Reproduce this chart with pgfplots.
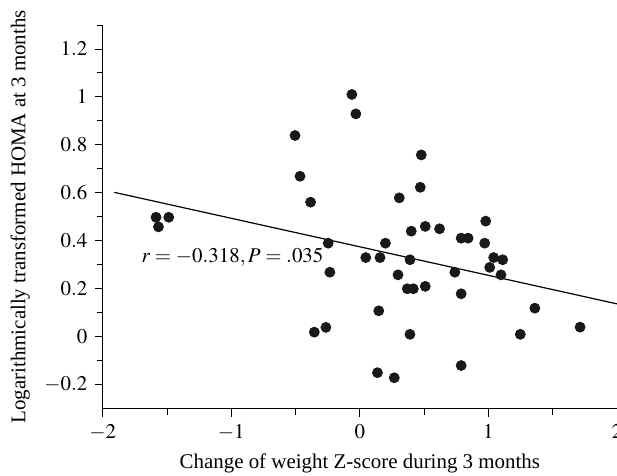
\documentclass[border=0pt]{standalone}
\usepackage{mathptmx}
\usepackage{fontspec}
\setmainfont{Liberation Serif}
\usepackage{pgfplots}
\pgfplotsset{compat=1.18}

\begin{document}
\fontsize{10.5}{12}\selectfont
\begin{tikzpicture}
  \begin{axis}[
      scale only axis,
      width=258pt, height=192.5pt,
      xmin=-2, xmax=2, ymin=-0.3, ymax=1.3,
      axis x line*=bottom, axis y line*=left,
      xtick={-2,-1,0,1,2},
      minor xtick={-1.5,-0.5,0.5,1.5},
      ytick={-0.2,0,0.2,0.4,0.6,0.8,1,1.2},
      minor ytick={-0.1,0.1,0.3,0.5,0.7,0.9,1.1,1.3},
      tick align=outside,
      major tick length=4pt, minor tick length=3pt,
      tick style={black, thin},
      axis line style={black, thin},
      font=\fontsize{10.5}{12}\selectfont,
      ticklabel style={font=\fontsize{10.5}{12}\selectfont},
      xlabel={Change of weight Z-score during 3 months},
      ylabel={Logarithmically transformed HOMA at 3 months},
      clip=false,
    ]
    % regression line
    \addplot[black, line width=0.6pt] coordinates {(-1.91,0.602) (2.0,0.137)};
    % observations
    \addplot[only marks, mark=*, mark size=2.5pt, color=black!90] coordinates {
      (-1.585,0.498) (-1.486,0.498) (-1.566,0.458)
      (-0.465,0.669) (-0.383,0.561) (-0.246,0.390) (-0.233,0.269)
      (-0.354,0.019) (-0.264,0.039)
      (-0.062,1.010) (-0.031,0.929) (-0.504,0.839)
      (0.478,0.758) (0.470,0.623)
      (0.307,0.579) (0.400,0.440) (0.509,0.460) (0.620,0.450)
      (0.979,0.482) (0.788,0.411) (0.842,0.411) (0.971,0.390)
      (0.199,0.390) (0.046,0.330) (0.157,0.330) (0.390,0.321)
      (1.041,0.330) (1.111,0.321) (1.010,0.289) (1.098,0.258)
      (0.739,0.269) (0.297,0.258) (0.369,0.200) (0.416,0.200)
      (0.509,0.210) (0.788,0.179) (0.147,0.108) (0.390,0.010)
      (1.248,0.010) (1.361,0.119) (1.713,0.040)
      (0.137,-0.150) (0.268,-0.171) (0.788,-0.120)
    };
    \node at (axis cs:-0.99,0.33) {$r = -0.318, P = .035$};
    \coordinate (ll) at (rel axis cs:0,0);
    \coordinate (ur) at (rel axis cs:1,1);
  \end{axis}
  \pgfresetboundingbox
  \path ([xshift=-51.5pt,yshift=-33.5pt]ll) rectangle ([yshift=12.5pt]ur);
\end{tikzpicture}
\end{document}
